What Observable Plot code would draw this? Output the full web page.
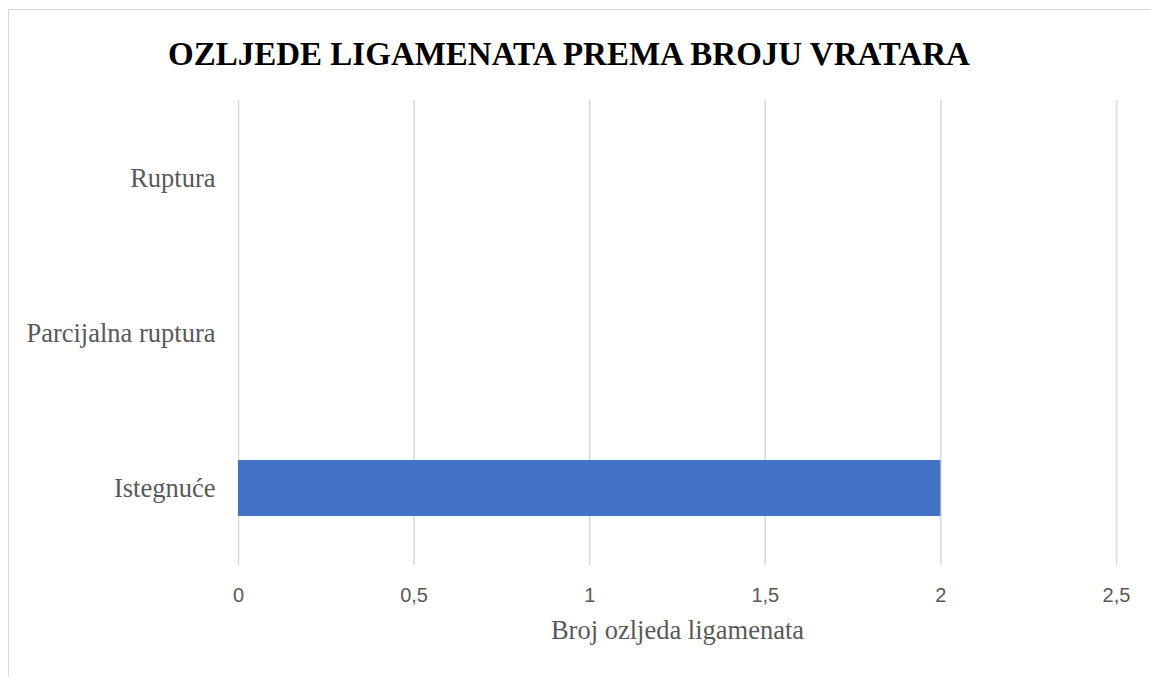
<!DOCTYPE html>
<html>
<head>
<meta charset="utf-8">
<script src="https://cdn.jsdelivr.net/npm/d3@7"></script>
<script src="https://cdn.jsdelivr.net/npm/@observablehq/plot@0.6"></script>
<style>
  html, body { margin: 0; padding: 0; background: #fff; overflow: hidden; }
  #wrap { position: relative; width: 1151px; height: 677px; }
  #frame { position: absolute; left: 8px; top: 9px; width: 1170px; height: 700px;
           border: 1.5px solid #d9d9d9; box-sizing: border-box; }
  #title { position: absolute; left: 8px; width: 1122px; top: 38px; text-align: center;
           font: bold 33px "Liberation Serif", "Times New Roman", serif; line-height: 33px; color: #000; }
  #chart { position: absolute; left: 0; top: 0; }
</style>
</head>
<body>
<div id="wrap">
  <div id="frame"></div>
  <div id="chart"></div>
  <div id="title">OZLJEDE LIGAMENATA PREMA BROJU VRATARA</div>
</div>
<script>
const categories = ["Ruptura", "Parcijalna ruptura", "Istegnuće"];
const values = [0, 0, 2];
const xTicks = [0, 0.5, 1, 1.5, 2, 2.5];
const xLabel = "Broj ozljeda ligamenata";

const data = categories.map((c, i) => ({category: c, value: values[i]}));

const chart = Plot.plot({
  width: 1151,
  height: 677,
  marginTop: 100,
  marginBottom: 112,
  marginLeft: 238,
  marginRight: 35,
  style: {background: "transparent", overflow: "visible"},
  x: {domain: [0, 2.5], ticks: xTicks},
  y: {domain: categories, paddingInner: 0.64, paddingOuter: 0.32},
  marks: [
    Plot.gridX(xTicks, {stroke: "#d9d9d9", strokeOpacity: 1, strokeWidth: 1.5}),
    Plot.barX(data, {y: "category", x: "value", fill: "#4472c4"}),
    Plot.axisX({ticks: xTicks, tickSize: 0, tickPadding: 22, label: null,
      tickFormat: d => String(d).replace(".", ","),
      fontSize: 20, fontFamily: "Liberation Sans, Arial, sans-serif", fill: "#595959"}),
    Plot.axisY({tickSize: 0, tickPadding: 23, label: null,
      fontSize: 26.5, fontFamily: "Liberation Serif, Times New Roman, serif", fill: "#595959"}),
    Plot.text([xLabel], {frameAnchor: "bottom", dy: 73, text: d => d,
      fontSize: 26.5, fontFamily: "Liberation Serif, Times New Roman, serif", fill: "#595959"})
  ]
});
document.getElementById("chart").appendChild(chart);
</script>
</body>
</html>
